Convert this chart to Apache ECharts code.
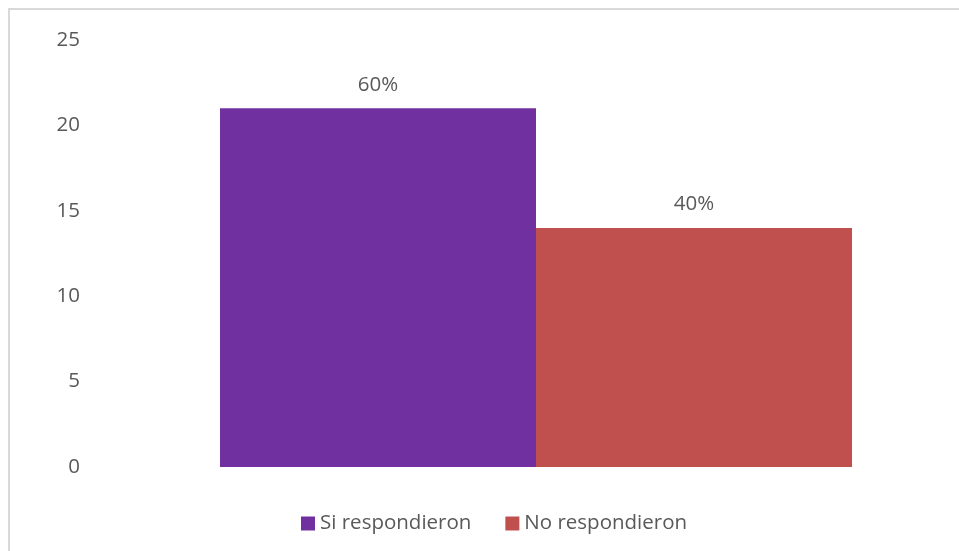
<!DOCTYPE html>
<html>
<head>
<meta charset="utf-8">
<script src="https://cdn.jsdelivr.net/npm/echarts@6/dist/echarts.min.js"></script>
<style>
  html, body { margin: 0; padding: 0; background: #fff; overflow: hidden; }
  #frame {
    position: absolute; left: 8px; top: 8px; width: 1000px; height: 600px;
    border-left: 2px solid #d9d9d9; border-top: 2px solid #d9d9d9;
  }
  #chart { position: absolute; left: 0; top: 0; width: 959px; height: 551px; }
</style>
</head>
<body>
<div id="frame"></div>
<div id="chart"></div>
<script>
const seriesNames = ['Si respondieron', 'No respondieron']
const seriesValues = [21, 14]
const seriesPercents = ['60%', '40%']
const seriesColors = ['#7030A0', '#C0504D']
const yTicks = [0, 5, 10, 15, 20, 25]

const TEXT = '#595959'
const FONT = 'Open Sans'
const FONT_SIZE = 20.5

const chart = echarts.init(document.getElementById('chart'), null, { renderer: 'canvas' })

const series = seriesNames.map((name, i) => ({
  name: name,
  type: 'bar',
  data: [seriesValues[i]],
  barGap: '0%',
  barWidth: 316,
  itemStyle: { color: seriesColors[i] },
  label: {
    show: true,
    position: 'top',
    distance: 13,
    formatter: () => seriesPercents[i],
    color: TEXT,
    fontFamily: FONT,
    fontSize: FONT_SIZE,
  },
}))

chart.setOption({
  animation: false,
  grid: { left: 113, top: 40, width: 854, height: 427 },
  legend: {
    left: 301,
    top: 513,
    padding: 0,
    itemWidth: 14,
    itemHeight: 14,
    itemGap: 34,
    icon: 'rect',
    textStyle: { color: TEXT, fontFamily: FONT, fontSize: FONT_SIZE },
    data: seriesNames,
  },
  xAxis: {
    type: 'category',
    data: [''],
    axisLine: { show: false },
    axisTick: { show: false },
    axisLabel: { show: false },
  },
  yAxis: {
    type: 'value',
    min: yTicks[0],
    max: yTicks[yTicks.length - 1],
    interval: yTicks[1] - yTicks[0],
    axisLine: { show: false },
    axisTick: { show: false },
    splitLine: { show: false },
    axisLabel: { color: TEXT, fontFamily: FONT, fontSize: FONT_SIZE, margin: 33 },
  },
  series: series,
})
</script>
</body>
</html>
